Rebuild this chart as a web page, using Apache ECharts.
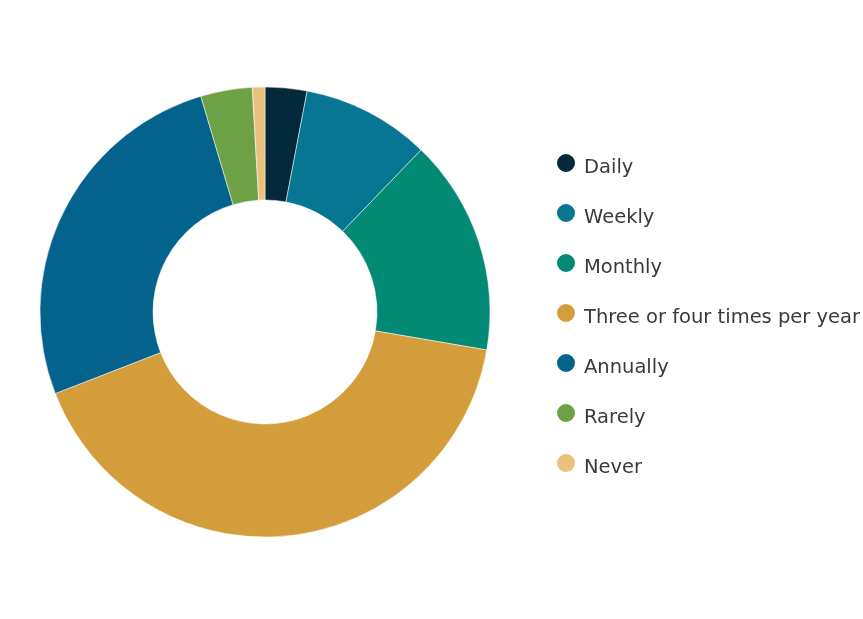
<!DOCTYPE html>
<html>
<head>
<meta charset="utf-8">
<script src="https://cdn.jsdelivr.net/npm/echarts@6/dist/echarts.min.js"></script>
<style>
  html, body { margin: 0; padding: 0; background: #ffffff; }
  #chart { width: 863px; height: 619px; }
</style>
</head>
<body>
<div id="chart"></div>
<script>
// Share of respondents by frequency (percent)
const categories = ['Daily', 'Weekly', 'Monthly', 'Three or four times per year', 'Annually', 'Rarely', 'Never'];
const shares = [3.0, 9.2, 15.5, 41.4, 26.3, 3.7, 0.9];
const palette = ['#03293a', '#067692', '#038a75', '#d49d3b', '#03638c', '#6ea145', '#e9c27e'];

const chart = echarts.init(document.getElementById('chart'), null, { renderer: 'canvas' });

chart.setOption({
  backgroundColor: '#ffffff',
  animation: false,
  color: palette,
  legend: {
    orient: 'vertical',
    left: 550,
    top: 147,
    icon: 'circle',
    itemWidth: 20,
    itemHeight: 20,
    itemGap: 24.5,
    data: categories,
    formatter: '{t|{name}}',
    textStyle: {
      fontFamily: 'DejaVu Sans',
      fontSize: 19.5,
      color: '#3a3a3a',
      rich: {
        // labels sit a little below the marker centres
        t: {
          fontFamily: 'DejaVu Sans',
          fontSize: 19.5,
          lineHeight: 20,
          color: '#3a3a3a',
          verticalAlign: 'top',
          padding: [4.5, 0, 0, 3]
        }
      }
    }
  },
  series: [{
    type: 'pie',
    center: [265, 312],
    radius: [112, 225],
    startAngle: 90,
    clockwise: true,
    label: { show: false },
    labelLine: { show: false },
    itemStyle: { borderColor: '#ffffff', borderWidth: 0.5 },
    emphasis: { disabled: true },
    data: categories.map((name, i) => ({ name, value: shares[i] }))
  }]
});
</script>
</body>
</html>
